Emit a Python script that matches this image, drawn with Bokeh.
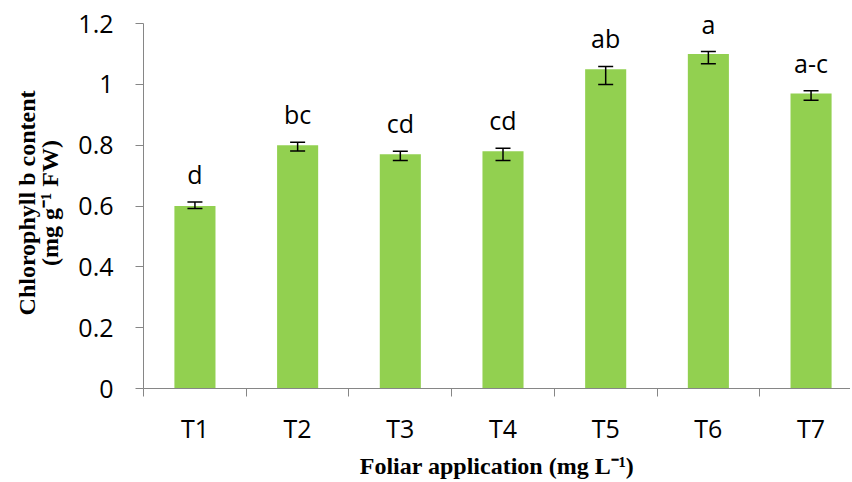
from bokeh.plotting import figure
from bokeh.models import ColumnDataSource, FixedTicker, Whisker, TeeHead, LabelSet, Range1d
from bokeh.core.properties import value
from bokeh.embed import file_html
from bokeh.resources import INLINE

# ---- data ----
treatments = ["T1", "T2", "T3", "T4", "T5", "T6", "T7"]
chl_b = [0.60, 0.80, 0.77, 0.78, 1.05, 1.10, 0.97]
err_upper = [0.613, 0.810, 0.780, 0.790, 1.059, 1.108, 0.979]
err_lower = [0.592, 0.781, 0.750, 0.750, 1.000, 1.068, 0.948]
letters = ["d", "bc", "cd", "cd", "ab", "a", "a-c"]
y_ticks = [0, 0.2, 0.4, 0.6, 0.8, 1, 1.2]
y_tick_labels = ["0", "0.2", "0.4", "0.6", "0.8", "1", "1.2"]

xpos = list(range(1, len(treatments) + 1))
src = ColumnDataSource(dict(x=xpos, top=chl_b, upper=err_upper, lower=err_lower, lab=letters))

FRAME_LEFT = 143
FIG_W = 850
FIG_H = 481
cat_px = 102.7
x_end = 0.5 + (FIG_W - FRAME_LEFT) / cat_px

p = figure(width=FIG_W, height=FIG_H, output_backend="svg", toolbar_location=None,
           x_range=Range1d(0.499, x_end), y_range=Range1d(0, 1.22),
           min_border_left=FRAME_LEFT, min_border_right=0, min_border_top=17,
           min_border_bottom=20)
p.outline_line_color = None
p.xgrid.visible = False
p.ygrid.visible = False
p.background_fill_color = "white"

p.vbar(x="x", top="top", width=0.4, source=src, fill_color="#92D050", line_color=None)

w = Whisker(base="x", upper="upper", lower="lower", source=src, line_color="black",
            line_width=1.5, level="overlay",
            upper_head=TeeHead(size=15, line_color="black", line_width=1.5),
            lower_head=TeeHead(size=15, line_color="black", line_width=1.5))
p.add_layout(w)

labels = LabelSet(x="x", y="upper", text="lab", source=src, y_offset=18,
                  text_align="center", text_baseline="alphabetic",
                  text_font=value("Open Sans"), text_font_size=value("25px"),
                  text_color="black")
p.add_layout(labels)

axis_gray = "#868686"

# x axis
xa = p.xaxis[0]
xa.ticker = FixedTicker(ticks=xpos, minor_ticks=[i + 0.5 for i in range(0, len(treatments) + 1)])
xa.major_label_overrides = {i: t for i, t in zip(xpos, treatments)}
xa.major_tick_out = 0
xa.major_tick_in = 0
xa.minor_tick_out = 8
xa.minor_tick_in = 0
xa.minor_tick_line_color = axis_gray
xa.axis_line_color = axis_gray
xa.major_label_text_font = "Open Sans"
xa.major_label_text_font_size = "25px"
xa.major_label_text_color = "black"
xa.major_label_standoff = 14
xa.axis_label = "Foliar application (mg L\u207b\u00b9)"
xa.axis_label_text_font = "Liberation Serif"
xa.axis_label_text_font_style = "bold"
xa.axis_label_text_font_size = "24px"
xa.axis_label_text_color = "black"
xa.axis_label_standoff = 5

# y axis
ya = p.yaxis[0]
ya.ticker = FixedTicker(ticks=y_ticks)
ya.bounds = (0, 1.2)
ya.major_label_overrides = {t: l for t, l in zip(y_ticks, y_tick_labels)}
ya.major_tick_out = 8
ya.major_tick_in = 0
ya.minor_tick_line_color = None
ya.major_tick_line_color = axis_gray
ya.axis_line_color = axis_gray
ya.major_label_text_font = "Open Sans"
ya.major_label_text_font_size = "25px"
ya.major_label_text_color = "black"
ya.major_label_standoff = 22
ya.axis_label = "Chlorophyll b content\n(mg g\u207b\u00b9 FW)"
ya.axis_label_text_font = "Liberation Serif"
ya.axis_label_text_font_style = "bold"
ya.axis_label_text_font_size = "24px"
ya.axis_label_text_line_height = 0.9
ya.axis_label_text_color = "black"
ya.axis_label_standoff = 12

open("out.html", "w").write(file_html(p, INLINE))
